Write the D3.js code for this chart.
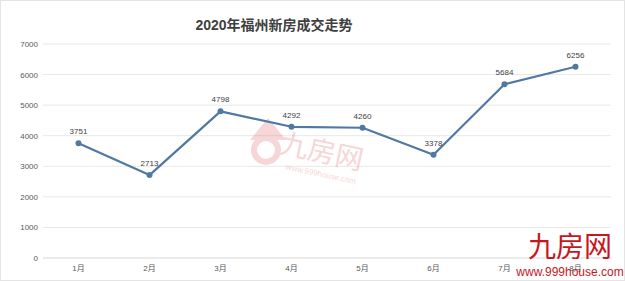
<!DOCTYPE html>
<html>
<head>
<meta charset="utf-8">
<script src="https://cdn.jsdelivr.net/npm/d3@7"></script>
<style>
  body { margin: 0; background: #fff; }
  text { font-family: "Liberation Sans", "Noto Sans CJK SC", sans-serif; }
</style>
</head>
<body>
<script>
let months = ["1月", "2月", "3月", "4月", "5月", "6月", "7月", "8月"];
let sales = [3751, 2713, 4798, 4292, 4260, 3378, 5684, 6256];
let yTicks = [0, 1000, 2000, 3000, 4000, 5000, 6000, 7000];
let title = "2020年福州新房成交走势";

let width = 625, height = 281;
let plotLeft = 43, plotRight = 611, plotTop = 44, plotBottom = 258;

let svg = d3.select("body").append("svg")
    .attr("width", width)
    .attr("height", height);

svg.append("rect")
    .attr("x", 0.5).attr("y", 0.5)
    .attr("width", width - 1).attr("height", height - 1)
    .attr("fill", "#fff")
    .attr("stroke", "#e4e4e4");

let x = d3.scaleBand()
    .domain(months)
    .range([plotLeft, plotRight]);

let y = d3.scaleLinear()
    .domain([0, 7000])
    .range([plotBottom, plotTop]);

// grid
svg.append("g")
    .selectAll("line")
    .data(yTicks)
    .enter()
        .append("line")
        .attr("x1", plotLeft).attr("x2", plotRight)
        .attr("y1", (d) => y(d)).attr("y2", (d) => y(d))
        .attr("stroke", (d) => d === 0 ? "#d6d6d6" : "#e8e8e8")
        .attr("stroke-width", 1);

let yAxis = d3.axisLeft(y).tickValues(yTicks).tickFormat(d3.format("d")).tickSize(0).tickPadding(5);
let gy = svg.append("g")
    .attr("transform", `translate(${plotLeft}, 0)`)
    .call(yAxis);
gy.select(".domain").remove();
gy.selectAll("text").attr("fill", "#595959").attr("font-size", 8);

let xAxis = d3.axisBottom(x).tickSize(0).tickPadding(7);
let gx = svg.append("g")
    .attr("transform", `translate(0, ${plotBottom})`)
    .call(xAxis);
gx.select(".domain").remove();
gx.selectAll("text").attr("fill", "#595959").attr("font-size", 8);

// watermark in the middle
let wm = svg.append("g").attr("opacity", 0.22);
wm.append("text")
    .attr("x", 280).attr("y", 160)
    .attr("transform", "rotate(12, 315, 150)")
    .attr("font-size", 28)
    .attr("fill", "#d9474d")
    .attr("font-family", "Noto Sans CJK SC")
    .text("九房网");
wm.append("text")
    .attr("x", 290).attr("y", 175)
    .attr("transform", "rotate(12, 315, 150)")
    .attr("font-size", 8)
    .attr("fill", "#d9474d")
    .text("www.999house.com");
wm.append("path")
    .attr("d", "M250,140 L268,118 L286,140 Z")
    .attr("fill", "#d9474d");
wm.append("circle")
    .attr("cx", 266).attr("cy", 150).attr("r", 12)
    .attr("fill", "none").attr("stroke", "#d9474d").attr("stroke-width", 6);

let line = d3.line()
    .x((d, i) => x(months[i]) + x.bandwidth() / 2)
    .y((d) => y(d));

svg.append("path")
    .datum(sales)
    .attr("d", line)
    .attr("fill", "none")
    .attr("stroke", "#4f79a3")
    .attr("stroke-width", 2.2)
    .attr("stroke-linejoin", "round");

svg.selectAll("circle.pt")
    .data(sales)
    .enter()
        .append("circle")
        .attr("class", "pt")
        .attr("cx", (d, i) => x(months[i]) + x.bandwidth() / 2)
        .attr("cy", (d) => y(d))
        .attr("r", 3)
        .attr("fill", "#4f79a3");

svg.selectAll("text.lbl")
    .data(sales)
    .enter()
        .append("text")
        .attr("class", "lbl")
        .attr("x", (d, i) => x(months[i]) + x.bandwidth() / 2)
        .attr("y", (d) => y(d) - 9)
        .attr("text-anchor", "middle")
        .attr("font-size", 8)
        .attr("fill", "#404040")
        .text((d) => d);

svg.append("text")
    .attr("x", 274)
    .attr("y", 30)
    .attr("text-anchor", "middle")
    .attr("font-size", 14)
    .attr("font-weight", "bold")
    .attr("fill", "#3f3f3f")
    .attr("font-family", "Noto Sans CJK SC")
    .text(title);

// logo bottom-right, drawn over the 8月 label as in the source image
svg.append("text")
    .attr("x", 570).attr("y", 257)
    .attr("text-anchor", "middle")
    .attr("font-size", 28)
    .attr("fill", "#c8161d")
    .attr("font-family", "Noto Sans CJK SC")
    .text("九房网");
svg.append("text")
    .attr("x", 570).attr("y", 276)
    .attr("text-anchor", "middle")
    .attr("font-size", 12)
    .attr("fill", "#c8161d")
    .text("www.999house.com");
</script>
</body>
</html>
